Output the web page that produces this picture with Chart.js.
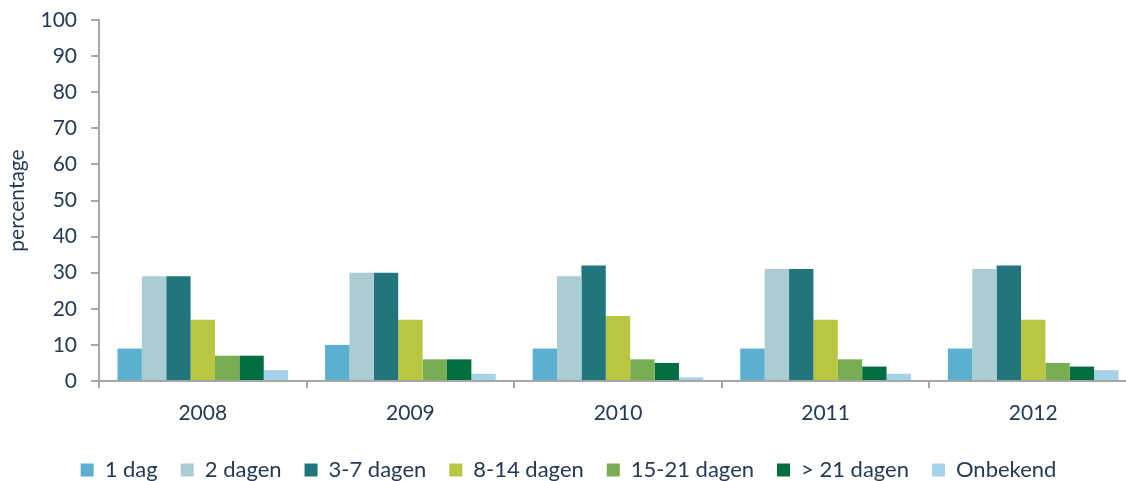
<!DOCTYPE html>
<html>
<head>
<meta charset="utf-8">
<script src="https://cdn.jsdelivr.net/npm/chart.js@4/dist/chart.umd.min.js"></script>
<style>
  html, body { margin: 0; padding: 0; background: #ffffff; overflow: hidden; }
  #wrap { position: absolute; left: 0; top: 0; width: 1140px; height: 491px; }
</style>
</head>
<body>
<div id="wrap"><canvas id="c" width="1140" height="491"></canvas></div>
<script>
const years = ["2008", "2009", "2010", "2011", "2012"];
const seriesNames = ["1 dag", "2 dagen", "3-7 dagen", "8-14 dagen", "15-21 dagen", "> 21 dagen", "Onbekend"];
const dag1      = [9, 10, 9, 9, 9];
const dagen2    = [29, 30, 29, 31, 31];
const dagen3_7  = [29, 30, 32, 31, 32];
const dagen8_14 = [17, 17, 18, 17, 17];
const dagen15_21 = [7, 6, 6, 6, 5];
const dagen21plus = [7, 6, 5, 4, 4];
const onbekend  = [3, 2, 1, 2, 3];
const yTicks = [0, 10, 20, 30, 40, 50, 60, 70, 80, 90, 100];
const yTitle = "percentage";

const seriesValues = [dag1, dagen2, dagen3_7, dagen8_14, dagen15_21, dagen21plus, onbekend];
const colors = ["#5BAFCF", "#AACDD4", "#20767C", "#B8C642", "#79AD52", "#016D40", "#A6D3EA"];
const textColor = "#243A55";
const axisColor = "#A6A6A6";
const fontFamily = "Lato, 'Open Sans', sans-serif";

const datasets = seriesNames.map((name, i) => ({
  label: name,
  data: seriesValues[i],
  backgroundColor: colors[i],
  borderWidth: 0,
  categoryPercentage: 0.822,
  barPercentage: 1.0
}));

new Chart(document.getElementById("c"), {
  type: "bar",
  data: { labels: years, datasets: datasets },
  options: {
    responsive: false,
    animation: false,
    layout: { padding: { left: 0, right: 3, top: 20, bottom: 0 } },
    plugins: {
      legend: {
        position: "bottom",
        labels: {
          color: textColor,
          font: { family: fontFamily, size: 22 },
          boxWidth: 13,
          boxHeight: 13,
          padding: 23
        }
      },
      tooltip: { enabled: false }
    },
    scales: {
      x: {
        grid: {
          display: true,
          drawOnChartArea: false,
          offset: true,
          color: axisColor,
          tickLength: 7,
          lineWidth: 2
        },
        border: { display: true, color: axisColor, width: 2 },
        ticks: {
          color: textColor,
          font: { family: fontFamily, size: 21 },
          padding: 13
        },
        afterFit: (s) => { s.height = 55; s.paddingLeft = 0; s.paddingRight = 0; }
      },
      y: {
        min: 0,
        max: 100,
        afterBuildTicks: (s) => { s.ticks = yTicks.map(v => ({ value: v })); },
        grid: {
          display: true,
          drawOnChartArea: false,
          color: axisColor,
          tickLength: 8,
          lineWidth: 2
        },
        border: { display: true, color: axisColor, width: 2 },
        ticks: {
          color: textColor,
          font: { family: fontFamily, size: 21 },
          padding: 14
        },
        title: {
          display: true,
          text: yTitle,
          color: textColor,
          font: { family: fontFamily, size: 21 },
          padding: { top: 5, bottom: 4 }
        },
        afterFit: (s) => { s.width = 99; s.paddingTop = 0; s.paddingBottom = 0; }
      }
    }
  }
});
</script>
</body>
</html>
